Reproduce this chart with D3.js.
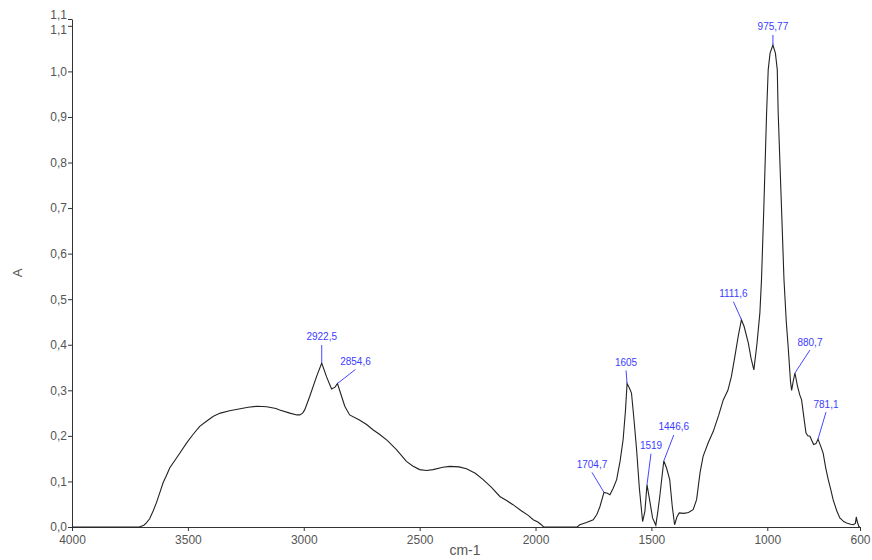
<!DOCTYPE html>
<html>
<head>
<meta charset="utf-8">
<script src="https://cdn.jsdelivr.net/npm/d3@7"></script>
<style>
  body { margin: 0; background: #fff; }
  svg { display: block; font-family: "Liberation Sans", Arial, sans-serif; }
</style>
</head>
<body>
<svg id="chart" width="872" height="560"></svg>
<script>
// spectrum (wavenumber in cm-1, absorbance A)
const wavenumber = [
  4000, 3710, 3690, 3679, 3665, 3650, 3636, 3620, 3607, 3590, 3578, 3555, 3535, 3506, 3478, 3449, 3420,
  3390, 3360, 3320, 3280, 3240, 3200, 3160, 3120, 3104, 3060, 3030, 3017, 3005, 2996, 2974, 2945,
  2922.5, 2902, 2880, 2865, 2854.6, 2837, 2823, 2802, 2760, 2729, 2700, 2672, 2640, 2600, 2557,
  2530, 2500, 2470, 2442, 2400, 2370, 2330, 2298, 2260, 2226, 2190, 2154, 2125, 2097, 2060, 2030,
  2010, 1990, 1975, 1965, 1820, 1809, 1780, 1751, 1735, 1722, 1704.7, 1690, 1679, 1665, 1650, 1635,
  1622, 1612, 1605, 1595, 1586, 1575, 1564, 1552, 1538, 1528, 1519, 1508, 1495, 1481, 1472, 1464,
  1446.6, 1435, 1421, 1410, 1400, 1390, 1380, 1360, 1340, 1320, 1305, 1290, 1277, 1255, 1233, 1210,
  1190, 1170, 1155, 1140, 1125, 1111.6, 1100, 1082, 1070, 1058, 1045, 1032, 1025, 1015, 1003, 996,
  988, 975.77, 965, 957, 953, 940, 928, 918, 910, 900, 895, 888, 880.7, 870, 860, 852, 842, 833,
  825, 816, 808, 800, 790, 781.1, 770, 759, 748, 737, 725, 716, 700, 687, 670, 658, 640, 629, 620,
  616, 612, 605, 600
];
const absorbance = [
  0, 0, 0.004, 0.009, 0.018, 0.035, 0.053, 0.077, 0.097, 0.116, 0.13, 0.147, 0.162, 0.184, 0.203, 0.221, 0.232,
  0.243, 0.25, 0.255, 0.259, 0.263, 0.265, 0.264, 0.26, 0.257, 0.25, 0.246, 0.246, 0.25, 0.257, 0.287, 0.33,
  0.36, 0.33, 0.303, 0.307, 0.315, 0.287, 0.265, 0.246, 0.235, 0.225, 0.213, 0.203, 0.19, 0.17, 0.144,
  0.134, 0.126, 0.124, 0.126, 0.131, 0.133, 0.132, 0.128, 0.118, 0.104, 0.087, 0.067, 0.058, 0.049, 0.035, 0.025,
  0.016, 0.011, 0.005, 0, 0, 0.005, 0.01, 0.016, 0.028, 0.045, 0.076, 0.074, 0.071, 0.085, 0.104, 0.145,
  0.192, 0.255, 0.315, 0.305, 0.294, 0.235, 0.17, 0.085, 0.012, 0.035, 0.093, 0.06, 0.02, 0.004, 0.035, 0.067,
  0.145, 0.13, 0.104, 0.045, 0.005, 0.022, 0.031, 0.03, 0.032, 0.038, 0.06, 0.12, 0.155, 0.185, 0.21, 0.245,
  0.279, 0.3, 0.33, 0.374, 0.42, 0.455, 0.44, 0.404, 0.37, 0.345, 0.4, 0.47, 0.543, 0.7, 0.909, 1.004,
  1.04, 1.058, 1.04, 1.004, 0.909, 0.72, 0.543, 0.45, 0.396, 0.32, 0.3, 0.32, 0.338, 0.31, 0.29, 0.279, 0.24, 0.206,
  0.2, 0.199, 0.19, 0.181, 0.183, 0.193, 0.178, 0.162, 0.13, 0.104, 0.08, 0.06, 0.035, 0.02, 0.012, 0.009, 0.006, 0.005, 0.008,
  0.022, 0.012, 0.001, 0
];

const xTicks = [4000, 3500, 3000, 2500, 2000, 1500, 1000, 600];
const yTicks = [0, 0.1, 0.2, 0.3, 0.4, 0.5, 0.6, 0.7, 0.8, 0.9, 1.0, 1.1, 1.115];

// labelled peaks
const peakWn = [2922.5, 2854.6, 1704.7, 1605, 1519, 1446.6, 1111.6, 975.77, 880.7, 781.1];
const peakText = ["2922,5", "2854,6", "1704,7", "1605", "1519", "1446,6", "1111,6", "975,77", "880,7", "781,1"];
// where each label sits relative to its peak (px)
const peakOffset = [[0, -26], [18, -22], [-12, -28], [-1, -21], [4, -39], [10, -34], [-8, -26], [0, -18], [15, -31], [8, -35]];

const svg = d3.select("#chart");
const margin = {top: 19, right: 12, bottom: 33, left: 72};
const width = 872, height = 560;

const x = d3.scaleLinear().domain([4000, 600]).range([margin.left, width - margin.right]);
const y = d3.scaleLinear().domain([0, 1.115]).range([height - margin.bottom, margin.top]);

const fmt = d => d3.format(".1f")(d).replace(".", ",");

// axes
const gx = svg.append("g")
  .attr("transform", `translate(0,${height - margin.bottom})`)
  .call(d3.axisBottom(x).tickValues(xTicks).tickFormat(d => d).tickSize(4).tickSizeOuter(0));
const gy = svg.append("g")
  .attr("transform", `translate(${margin.left},0)`)
  .call(d3.axisLeft(y).tickValues(yTicks).tickFormat(fmt).tickSize(4).tickSizeOuter(0));

[gx, gy].forEach(g => {
  g.select(".domain").attr("stroke", "#333");
  g.selectAll(".tick line").attr("stroke", "#333");
  g.selectAll(".tick text").attr("fill", "#555").style("font-size", "12px")
    .style("font-family", "Liberation Sans, Arial, sans-serif");
});
gx.selectAll(".tick text").attr("dy", "0.85em");
gy.selectAll(".tick text").attr("x", -5);
// the two "1,1" labels sit close together: push them apart a little
gy.selectAll(".tick text").filter(d => d === 1.115).attr("dy", "-0.05em");
gy.selectAll(".tick text").filter(d => d === 1.1).attr("dy", "0.6em");

// axis titles
svg.append("text")
  .attr("transform", `translate(22,${(height - margin.bottom + margin.top) / 2}) rotate(-90)`)
  .attr("text-anchor", "middle")
  .attr("fill", "#555")
  .style("font-size", "13px")
  .text("A");
svg.append("text")
  .attr("x", 465).attr("y", 555)
  .attr("text-anchor", "middle")
  .attr("fill", "#555")
  .style("font-size", "14px")
  .text("cm-1");

// spectrum
const pts = wavenumber.map((w, i) => [w, absorbance[i]]);
const line = d3.line().x(d => x(d[0])).y(d => y(d[1]));
svg.append("path")
  .datum(pts)
  .attr("d", line)
  .attr("fill", "none")
  .attr("stroke", "#222")
  .attr("stroke-width", 1.1);

// peak labels
const peaks = peakWn.map((w, i) => ({
  w, a: absorbance[wavenumber.indexOf(w)], text: peakText[i], off: peakOffset[i]
}));
const pg = svg.append("g").selectAll("g").data(peaks).join("g");
pg.append("line")
  .attr("x1", d => x(d.w)).attr("y1", d => y(d.a))
  .attr("x2", d => x(d.w) + d.off[0]).attr("y2", d => y(d.a) + d.off[1] + 8)
  .attr("stroke", "#4646ff").attr("stroke-width", 1);
pg.append("text")
  .attr("x", d => x(d.w) + d.off[0]).attr("y", d => y(d.a) + d.off[1] + 3.5)
  .attr("text-anchor", "middle")
  .attr("fill", "#3c3cff")
  .style("font-size", "10px")
  .text(d => d.text);
</script>
</body>
</html>
